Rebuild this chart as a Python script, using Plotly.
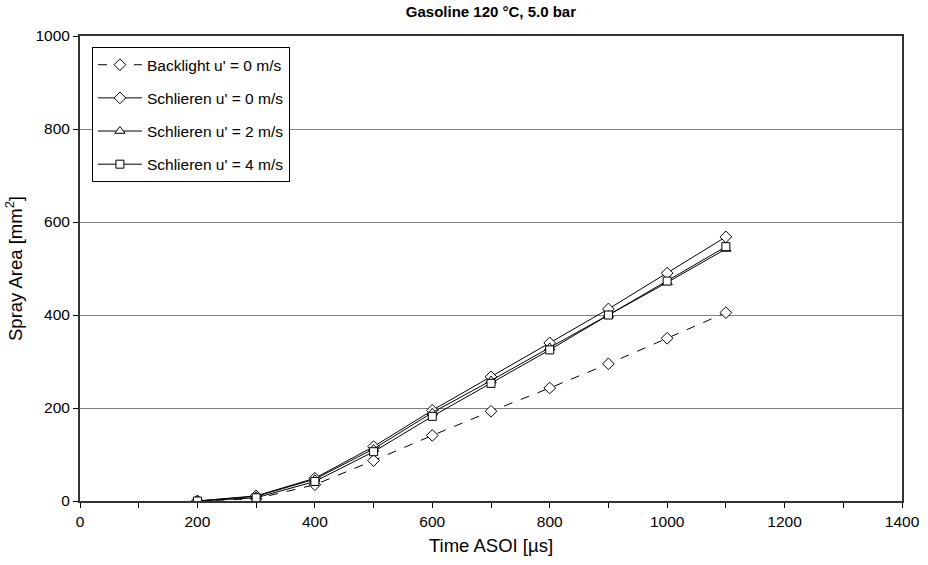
import plotly.graph_objects as go

time_us = [200, 300, 400, 500, 600, 700, 800, 900, 1000, 1100]
backlight_0 = [0, 5, 35, 87, 141, 193, 243, 295, 350, 405]
schlieren_0 = [0, 11, 49, 117, 195, 267, 340, 413, 490, 568]
schlieren_2 = [0, 10, 47, 112, 190, 259, 330, 400, 470, 542]
schlieren_4 = [0, 7, 42, 106, 182, 253, 325, 400, 473, 547]

series = [
    ("Backlight u' = 0 m/s", backlight_0, "diamond", "dash"),
    ("Schlieren u' = 0 m/s", schlieren_0, "diamond", "solid"),
    ("Schlieren u' = 2 m/s", schlieren_2, "triangle-up", "solid"),
    ("Schlieren u' = 4 m/s", schlieren_4, "square", "solid"),
]

fig = go.Figure()
for i, (name, vals, sym, dash) in enumerate(series):
    fig.add_trace(go.Scatter(
        x=time_us, y=vals, name=name, mode="lines+markers",
        legendgroup=f"g{i}",
        line=dict(color="black", width=1, dash=dash),
        marker=dict(symbol=sym, size=9 if sym != "square" else 8, color="white",
                    line=dict(color="black", width=1)),
    ))

font = "Liberation Sans, Arial, sans-serif"
fig.update_layout(
    width=928, height=565,
    margin=dict(l=80, r=26, t=36, b=64),
    paper_bgcolor="white", plot_bgcolor="white",
    font=dict(family=font, color="black", size=15),
    title=dict(text="<b>Gasoline 120 °C, 5.0 bar</b>", x=0.529,
               xanchor="center", y=0.988, yanchor="top",
               font=dict(size=15, family=font)),
    legend=dict(x=0.0145, y=0.976, xanchor="left", yanchor="top",
                bgcolor="white", bordercolor="black", borderwidth=1,
                font=dict(size=15.5, family=font), tracegroupgap=10,
                itemwidth=44),
    showlegend=True,
)
fig.update_xaxes(
    range=[0, 1400], dtick=200, tick0=0, automargin=False,
    ticks="outside", ticklen=5, tickcolor="black",
    minor=dict(dtick=100, ticks="outside", ticklen=5, tickcolor="black"),
    showgrid=False, zeroline=False,
    showline=True, linecolor="#333", linewidth=2, mirror=True,
    title=dict(text="Time ASOI [µs]", font=dict(size=18.5), standoff=10),
    tickfont=dict(size=15.5),
)
fig.update_yaxes(
    range=[0, 1000], dtick=200, tick0=0, automargin=False,
    ticks="outside", ticklen=5, tickcolor="black",
    showgrid=True, gridcolor="#808080", gridwidth=1, zeroline=False,
    showline=True, linecolor="#333", linewidth=2, mirror=True,
    title=dict(text="Spray Area [mm<sup>2</sup>]", font=dict(size=18.5), standoff=8),
    tickfont=dict(size=15.5),
)
fig.write_html("out.html")
